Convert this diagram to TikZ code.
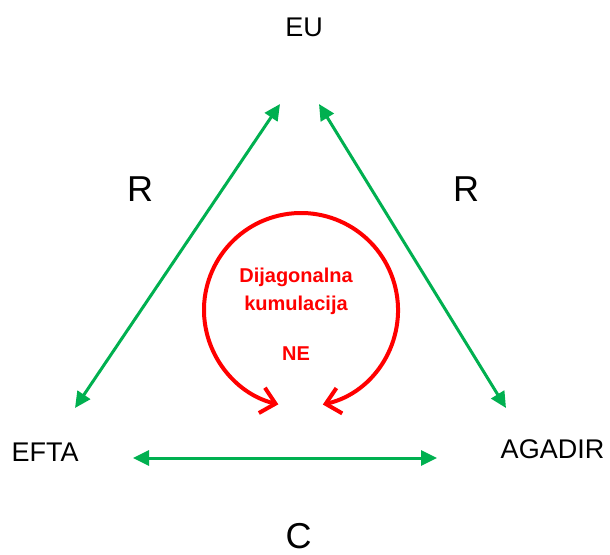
\documentclass[tikz,border=0pt]{standalone}
\usepackage{fontspec}
\setmainfont{Liberation Sans}
\usetikzlibrary{arrows.meta}
\definecolor{zelena}{RGB}{0,176,80}
\tikzset{
  blok/.style={font=\fontsize{13.5}{16}\selectfont, anchor=base},
  pravilo/.style={font=\fontsize{18}{21}\selectfont, anchor=base},
  veza/.style={draw=zelena, line width=1.5pt,
    {Triangle[length=8pt,width=7.5pt]}-{Triangle[length=8pt,width=7.5pt]}},
  kum/.style={text=red, font=\bfseries\fontsize{10}{14}\selectfont, anchor=base},
}
\begin{document}
\begin{tikzpicture}[x=0.5pt,y=-0.5pt]
    \useasboundingbox (0,0) rectangle (610,554);

    % ~~~~ Blokovi ~~~~ %
    \node[blok] (eu) at (304,36) {EU};
    \node[blok] (efta) at (45,461) {EFTA};
    \node[blok] (agadir) at (552.5,458.5) {AGADIR};

    % ~~~~ Kumulacija ~~~~ %
    \coordinate (eu-l) at (280,104);
    \coordinate (eu-d) at (319,104);
    \coordinate (efta-g) at (75,408);
    \coordinate (efta-d) at (133,458);
    \coordinate (agadir-g) at (506,408);
    \coordinate (agadir-l) at (437,458);
    \draw[veza] (eu-l) -- (efta-g);
    \draw[veza] (eu-d) -- (agadir-g);
    \draw[veza] (efta-d) -- (agadir-l);
    \node[pravilo] (r-l) at (140,201) {R};
    \node[pravilo] (r-d) at (466,201) {R};
    \node[pravilo] (c) at (298.5,548.5) {C};

    % ~~~~ Dijagonalna ~~~~ %
    \coordinate (krug) at (301,310);
    \draw[red, line width=2pt, {Straight Barb[length=7pt,width=13pt]}-{Straight Barb[length=7pt,width=13pt]}]
        (krug) ++(-77:48.5pt) arc[start angle=-77, end angle=256.5, radius=48.5pt];
    \node[kum] (dij) at (296,282.7) {Dijagonalna};
    \node[kum] (kml) at (296,310.7) {kumulacija};
    \node[kum] (ne) at (296,360) {NE};
\end{tikzpicture}
\end{document}
